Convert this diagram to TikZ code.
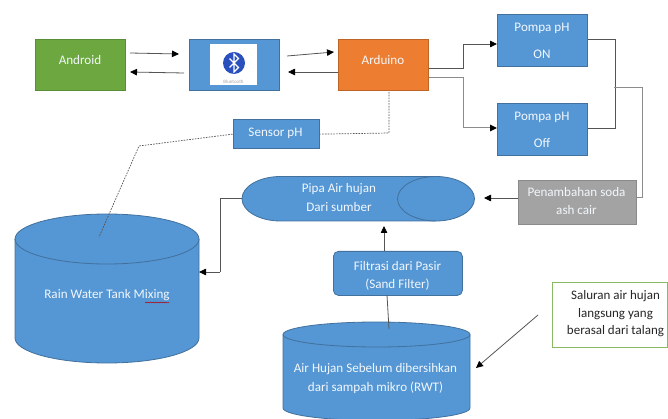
\documentclass[tikz,border=0pt]{standalone}
\usepackage{fontspec}
\setmainfont{Carlito}
\usetikzlibrary{arrows.meta,decorations.pathmorphing}
\definecolor{fillblue}{HTML}{5596D4}
\definecolor{edgeblue}{HTML}{41719C}
\definecolor{fillgreen}{HTML}{6CA83F}
\definecolor{edgegreen}{HTML}{5A8E36}
\definecolor{fillorange}{HTML}{ED7D31}
\definecolor{edgeorange}{HTML}{BE6428}
\definecolor{fillgray}{HTML}{A3A3A3}
\definecolor{edgegray}{HTML}{8A8A8A}
\definecolor{txtwhite}{HTML}{F2F7FC}
\definecolor{linedark}{HTML}{555555}
\definecolor{linelight}{HTML}{8C8C8C}
\definecolor{btblue}{HTML}{2A50BE}
\tikzset{
  x=1pt,y=-1pt,
  lbl/.style={font=\fontsize{13.1}{16}\selectfont,text=txtwhite,align=center,inner sep=0pt},
  notelbl/.style={font=\fontsize{13}{16}\selectfont,text=black!85,inner sep=0pt},
  boxbase/.style={draw,line width=0.8pt,inner sep=0pt,minimum width=#1,lbl},
  bluebox/.style={boxbase=#1,fill=fillblue,draw=edgeblue},
  shapeblue/.style={fill=fillblue,draw=edgeblue,line width=0.8pt},
  conn/.style={draw=linedark,line width=0.8pt,line join=miter},
  connlight/.style={draw=linelight,line width=1pt},
  arr/.style={-{Triangle[length=7pt,width=6.5pt,color=black]}},
  dots/.style={draw=linedark,line width=0.7pt,dash pattern=on 1.6pt off 1.2pt},
  anchorbox/.style={inner sep=0pt,outer sep=0pt,minimum width=#1}
}
\begin{document}
\begin{tikzpicture}
\useasboundingbox (0,0) rectangle (668,419);
\fill[white] (0,0) rectangle (668,419);

% free ends of the connectors
\coordinate (a1) at (130,53); \coordinate (b1) at (179,54);
\coordinate (b2) at (184,73); \coordinate (a2) at (130,72);
\coordinate (b3) at (287,56); \coordinate (c3) at (334,52);
\coordinate (c4) at (338,72); \coordinate (b4) at (288,72);
\coordinate (pipeEnd) at (484,198);
\coordinate (pipeBottom) at (384,226);
\coordinate (tankProbe) at (99,237);
\coordinate (sensorBend) at (139,146);
\coordinate (gIn) at (538,315);
\coordinate (gOut) at (476,368);
\coordinate (rwtTop) at (389,329);
\coordinate (mergeA) at (614,88);

% boxes
\node[boxbase=90pt,minimum height=51pt,fill=fillgreen,draw=edgegreen,anchor=north west] (android) at (35,39) {};
\node[lbl] (androidT) at (80,60) {Android};
\node[bluebox=90pt,minimum height=51pt,anchor=north west] (bt) at (188.5,39) {};
\node[fill=white,inner sep=0pt,minimum width=47pt,minimum height=41pt] (btw) at (233.5,65) {};
\fill[btblue] (234,63) circle (11);
\draw[white,line width=1.2pt,line join=miter] (229.5,58.5) -- (238.5,67.5) -- (234,72) -- (234,54) -- (238.5,58.5) -- (229.5,67.5);
\node[font=\fontsize{5}{6}\selectfont,text=gray!70] (btT) at (233.5,81.5) {Bluetooth};
\node[boxbase=90pt,minimum height=51pt,fill=fillorange,draw=edgeorange,anchor=north west] (arduino) at (338,39) {};
\node[lbl] (arduinoT) at (383,60) {Arduino};
\node[bluebox=90pt,minimum height=51.5pt,anchor=north west] (on) at (497,14.5) {};
\node[lbl] at (542,28) {Pompa pH};
\node[lbl] at (542,54.5) {ON};
\node[bluebox=90pt,minimum height=51.5pt,anchor=north west] (off) at (497,103.5) {};
\node[lbl] at (542,117) {Pompa pH};
\node[lbl] at (542,143.5) {Off};
\node[bluebox=86pt,minimum height=28.5pt,anchor=north west] (sensor) at (232.5,119.5) {};
\node[lbl] at (275.5,133) {Sensor pH};

% pipe
\node[anchorbox=233pt,minimum height=44.5pt,anchor=north west] (pipe) at (242,176.5) {};
\path[shapeblue] (280.5,176.5) -- (436,176.5) arc[start angle=-90,end angle=90,x radius=38.5,y radius=22.25] -- (280.5,221) arc[start angle=90,end angle=270,x radius=38.5,y radius=22.25] -- cycle;
\draw[edgeblue,line width=0.8pt] (436,176.5) arc[start angle=-90,end angle=-270,x radius=38.5,y radius=22.25];
\node[lbl] at (339,189.5) {Pipa Air hujan};
\node[lbl] at (339,207) {Dari sumber};

\node[boxbase=118pt,minimum height=44pt,fill=fillgray,draw=edgegray,anchor=north west] (soda) at (518,180) {};
\node[lbl] at (576.5,192.5) {Penambahan soda};
\node[lbl] at (576.5,210) {ash cair};

\node[bluebox=129pt,minimum height=44pt,rounded corners=5pt,anchor=north west] (filter) at (333,251) {};
\node[lbl] at (397.5,266) {Filtrasi dari Pasir};
\node[lbl] at (397.5,285) {(Sand Filter)};

% mixing tank
\node[anchorbox=184pt,minimum height=149pt,anchor=north west] (tank) at (15,214) {};
\path[shapeblue] (15,239) -- (15,338) arc[start angle=180,end angle=0,x radius=92,y radius=25] -- (199,239) arc[start angle=0,end angle=-180,x radius=92,y radius=25] -- cycle;
\draw[edgeblue,line width=0.8pt] (15,239) arc[start angle=180,end angle=0,x radius=92,y radius=25];
\node[lbl] (tankT) at (107,295.5) {Rain Water Tank Mixing};
\draw[red!70!black,line width=0.5pt,decorate,decoration={snake,amplitude=0.4pt,segment length=2.5pt}] (145,302.5) -- (169,302.5);

% RWT tank
\node[anchorbox=187pt,minimum height=98pt,anchor=north west] (rwt) at (283,322) {};
\path[shapeblue] (283,334.5) -- (283,408) arc[start angle=180,end angle=0,x radius=93.5,y radius=12.5] -- (470,334.5) arc[start angle=0,end angle=-180,x radius=93.5,y radius=12.5] -- cycle;
\draw[edgeblue,line width=0.8pt] (283,334.5) arc[start angle=180,end angle=0,x radius=93.5,y radius=12.5];
\node[lbl] at (375.5,369.5) {Air Hujan Sebelum dibersihkan};
\node[lbl] at (375.5,387.5) {dari sampah mikro (RWT)};

% note
\node[draw=fillgreen!80!white,fill=white,line width=0.9pt,inner sep=0pt,minimum width=115pt,minimum height=65pt,anchor=north west] (note) at (552,282) {};
\node[notelbl] at (615.5,296) {Saluran air hujan};
\node[notelbl] at (615.5,314.5) {langsung yang};
\node[notelbl] at (615.5,331.5) {berasal dari talang};

% connectors
\draw[conn,arr] (a1) -- (b1);
\draw[conn,arr] (b2) -- (a2);
\draw[conn,arr] (b3) -- (c3);
\draw[conn,arr] (c4) -- (b4);
\draw[conn,arr] (arduino.east |- 0,68) -- (463,68) -- (463,44) -- (on.west |- 0,44);
\draw[connlight,arr] (arduino.east |- 0,78) -- (463,78) -- (463,128) -- (off.west |- 0,128);
\draw[conn] (on.east |- 0,39) -- (615,39) -- (615,128) -- (off.east |- 0,128);
\draw[connlight] (mergeA) -- (642,88) -- (642,198) -- (soda.east |- 0,198);
\draw[conn,arr] (soda.west |- 0,198) -- (pipeEnd);
\draw[conn] (pipe.west |- 0,198) -- (220,198) -- (220,272);
\draw[conn,arr] (220,272) -- (tank.east |- 0,272);
\draw[conn,arr] (filter.north -| 384,0) -- (pipeBottom);
\draw[conn] (rwtTop) -- (387,295);
\draw[conn,arr] (gIn) -- (gOut);
\draw[dots] (sensor.east) -- (389,133) -- (arduino.south -| 389,0);
\draw[dots] (sensor.west) -- (sensorBend) -- (tankProbe);
\end{tikzpicture}
\end{document}
